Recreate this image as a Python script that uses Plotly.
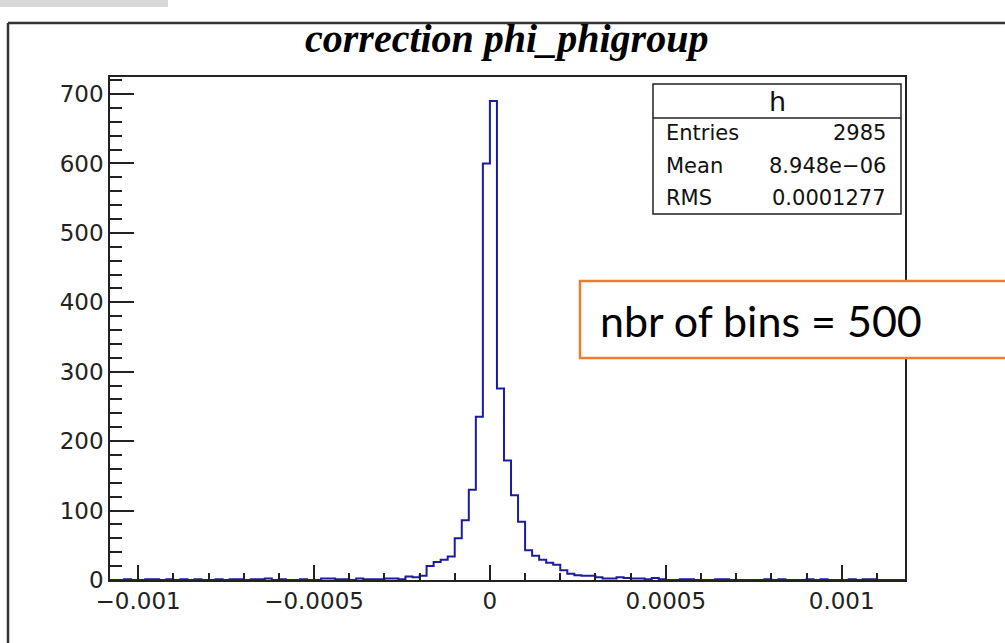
import numpy as np
import plotly.graph_objects as go

# ---------------- data ----------------
bin_start = -0.00108
bin_width = 2e-5
counts = [
    0, 0, 1, 0, 0, 1, 1, 0, 1, 0,      # -0.00108 ...
    1, 0, 1, 0, 0, 1, 0, 1, 1, 0,
    1, 1, 2, 0, 1, 0, 0, 1, 0, 0,
    2, 2, 1, 1, 0, 2, 1, 1, 1, 2,
    2, 1, 5, 4, 6, 20, 26, 29, 34, 60,
    86, 130, 235, 600, 690, 276, 172, 122, 84, 43,
    35, 29, 25, 22, 14, 9, 7, 6, 6, 4,
    2, 2, 4, 3, 2, 2, 1, 3, 1, 0,
    0, 1, 1, 0, 0, 0, 1, 1, 0, 0,
    0, 0, 0, 1, 0, 1, 0, 0, 0, 1,
    0, 1, 0, 0, 0, 1, 0, 1, 1, 0,
    0, 0, 0,
]
x_tick_vals = [-0.001, -0.0005, 0.0, 0.0005, 0.001]
x_tick_text = ["\u22120.001", "\u22120.0005", "0", "0.0005", "0.001"]
y_tick_vals = [0, 100, 200, 300, 400, 500, 600, 700]
y_tick_text = ["0", "100", "200", "300", "400", "500", "600", "700"]
title_text = "correction phi_phigroup"
stats_name = "h"
stats_labels = ["Entries", "Mean", "RMS"]
stats_values = ["2985", "8.948e\u221206", "0.0001277"]
note_text = "nbr of bins = 500"

# ---------------- geometry helpers ----------------
W, H = 1005, 643
L, R, T, B = 110, 905, 77, 580


def px(x):
    return (x - L) / (R - L)


def py(y):
    return (B - y) / (B - T)


n = len(counts)
edges = bin_start + bin_width * np.arange(n + 1)
xs = [edges[0]] + list(edges[:-1]) + [edges[-1], edges[-1]]
ys = [0] + list(counts) + [counts[-1], 0]

fig = go.Figure()
fig.add_trace(go.Scatter(
    x=xs, y=ys, mode="lines", line=dict(color="#1c1c9e", width=2, shape="hv"),
    hoverinfo="skip", showlegend=False,
))

ymax = max(counts) * 1.05
minor_x = [v for v in np.round(np.arange(-0.001, 0.00118, 0.0001), 6)]
tick_font = dict(family="DejaVu Sans", size=23, color="#222222")

fig.update_layout(
    width=W, height=H, autosize=False,
    margin=dict(l=L, r=W - R, t=T, b=H - B, pad=0),
    paper_bgcolor="white", plot_bgcolor="white",
    showlegend=False,
    xaxis=dict(
        range=[edges[0], edges[-1]], showgrid=False, zeroline=False,
        showline=True, linecolor="#222222", linewidth=1.5, mirror=True,
        ticks="inside", ticklen=15, tickwidth=1.5, tickcolor="#222222",
        tickmode="array", tickvals=x_tick_vals, ticktext=x_tick_text,
        tickfont=tick_font, automargin=False, layer="above traces",
        minor=dict(tickmode="array", tickvals=minor_x, ticks="inside",
                   ticklen=7.5, tickwidth=1.5, tickcolor="#222222", showgrid=False),
    ),
    yaxis=dict(
        range=[0, ymax], showgrid=False, zeroline=False,
        showline=True, linecolor="#222222", linewidth=1.5, mirror=True,
        ticks="inside", ticklen=24, tickwidth=1.5, tickcolor="#222222",
        tickmode="array", tickvals=y_tick_vals, ticktext=y_tick_text,
        tickfont=tick_font, automargin=False, layer="above traces",
        minor=dict(tickmode="linear", tick0=0, dtick=20, ticks="inside",
                   ticklen=12, tickwidth=1.5, tickcolor="#222222", showgrid=False),
    ),
)

shapes = []
# top-left gray tab
shapes.append(dict(type="rect", xref="paper", yref="paper",
                   x0=px(0), x1=px(168), y0=py(0), y1=py(7),
                   fillcolor="#d8d8d8", line=dict(width=0), layer="above"))
# canvas border (left & top)
shapes.append(dict(type="line", xref="paper", yref="paper",
                   x0=px(8), x1=px(8), y0=py(23), y1=py(H + 5),
                   line=dict(color="#333333", width=2.5)))
shapes.append(dict(type="line", xref="paper", yref="paper",
                   x0=px(8), x1=px(W + 5), y0=py(23), y1=py(23),
                   line=dict(color="#333333", width=2.5)))
# stats box
shapes.append(dict(type="rect", xref="paper", yref="paper",
                   x0=px(653), x1=px(901), y0=py(84), y1=py(214),
                   fillcolor="white", line=dict(color="#222222", width=1.5), layer="above"))
shapes.append(dict(type="line", xref="paper", yref="paper",
                   x0=px(653), x1=px(901), y0=py(118), y1=py(118),
                   line=dict(color="#222222", width=1.5), layer="above"))
# orange note box
shapes.append(dict(type="rect", xref="paper", yref="paper",
                   x0=px(580), x1=px(W + 10), y0=py(281), y1=py(358),
                   fillcolor="white", line=dict(color="#ED7D31", width=2.5), layer="above"))
fig.update_layout(shapes=shapes)

ann = []
ann.append(dict(text=title_text, xref="paper", yref="paper", x=px(506), y=py(38),
                xanchor="center", yanchor="middle", showarrow=False,
                font=dict(family="Liberation Serif", size=40, color="black",
                          style="italic", weight="bold")))
ann.append(dict(text=stats_name, xref="paper", yref="paper", x=px(777), y=py(101),
                xanchor="center", yanchor="middle", showarrow=False,
                font=dict(family="DejaVu Sans", size=27, color="#111111")))
row_y = [133, 166, 198]
for lab, val, yy in zip(stats_labels, stats_values, row_y):
    ann.append(dict(text=lab, xref="paper", yref="paper", x=px(664), y=py(yy),
                    xanchor="left", yanchor="middle", showarrow=False,
                    font=dict(family="DejaVu Sans", size=21, color="#111111")))
    ann.append(dict(text=val, xref="paper", yref="paper", x=px(888), y=py(yy),
                    xanchor="right", yanchor="middle", showarrow=False,
                    font=dict(family="DejaVu Sans", size=21, color="#111111")))
ann.append(dict(text=note_text, xref="paper", yref="paper", x=px(598), y=py(320),
                xanchor="left", yanchor="middle", showarrow=False,
                font=dict(family="Lato", size=43, color="black")))
fig.update_layout(annotations=ann)

fig.write_html("out.html", config={"displayModeBar": False},
               post_script="document.body.style.margin='0px';")
